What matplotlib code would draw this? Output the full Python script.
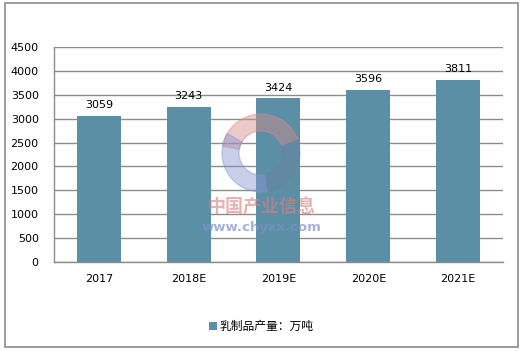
import matplotlib.pyplot as plt
from matplotlib.patches import Rectangle, Wedge

plt.rcParams['font.family'] = ['DejaVu Sans', 'Noto Sans CJK SC']

years = ['2017', '2018E', '2019E', '2020E', '2021E']
output = [3059, 3243, 3424, 3596, 3811]
yticks = [0, 500, 1000, 1500, 2000, 2500, 3000, 3500, 4000, 4500]

bar_color = '#5b8fa6'
grid_color = '#8c8c8c'

fig = plt.figure(figsize=(5.22, 3.51), dpi=100)
ax = fig.add_axes([0.1034, 0.2536, 0.8602, 0.6124])

x = range(len(years))
bars = ax.bar(x, output, width=0.49, color=bar_color, zorder=2, label='乳制品产量：万吨')
for i, v in enumerate(output):
    ax.text(i, v + 120, str(v), ha='center', va='bottom', fontsize=8, color='black')

ax.set_xlim(-0.5, len(years) - 0.5)
ax.set_ylim(0, 4500)
ax.set_yticks(yticks)
ax.set_xticks(list(x))
ax.set_xticklabels(years)
ax.tick_params(length=0, labelsize=8, pad=9)
ax.tick_params(axis='y', pad=11)
ax.yaxis.grid(True, color=grid_color, linewidth=1, zorder=0)
ax.set_axisbelow(True)
for s in ['top', 'right']:
    ax.spines[s].set_visible(False)
for s in ['left', 'bottom']:
    ax.spines[s].set_color(grid_color)
    ax.spines[s].set_linewidth(1)

# watermark logo + text (pixel coordinates, y downwards)
logo_ax = fig.add_axes([0, 0, 1, 1], facecolor='none')
logo_ax.set_xlim(0, 522)
logo_ax.set_ylim(351, 0)
logo_ax.axis('off')
logo_ax.add_patch(Wedge((261, 153), 39, 190, 340, width=17, color='#d98a8a', alpha=0.45))
logo_ax.add_patch(Wedge((261, 153), 39, 80, 210, width=17, color='#8a96d0', alpha=0.45))
logo_ax.add_patch(Wedge((261, 153), 39, -20, 80, width=17, color='#6f7f9f', alpha=0.35))
logo_ax.text(261, 208, '中国产业信息', ha='center', va='center', fontsize=13,
             color='#d98080', alpha=0.6, fontweight='bold')
logo_ax.text(261, 227, 'www.chyxx.com', ha='center', va='center', fontsize=9.5,
             color='#8090c8', alpha=0.7, fontweight='bold')

leg = fig.legend(handles=[bars], loc='center', bbox_to_anchor=(0.5, 0.07),
                 frameon=False, fontsize=8.5, handlelength=0.7, handleheight=0.7,
                 handletextpad=0.2)

fig.patches.append(Rectangle((5 / 522, 4 / 351), 513 / 522, 344 / 351,
                             transform=fig.transFigure, fill=False,
                             edgecolor=grid_color, linewidth=1.2))

fig.savefig('out.png', dpi=100)
